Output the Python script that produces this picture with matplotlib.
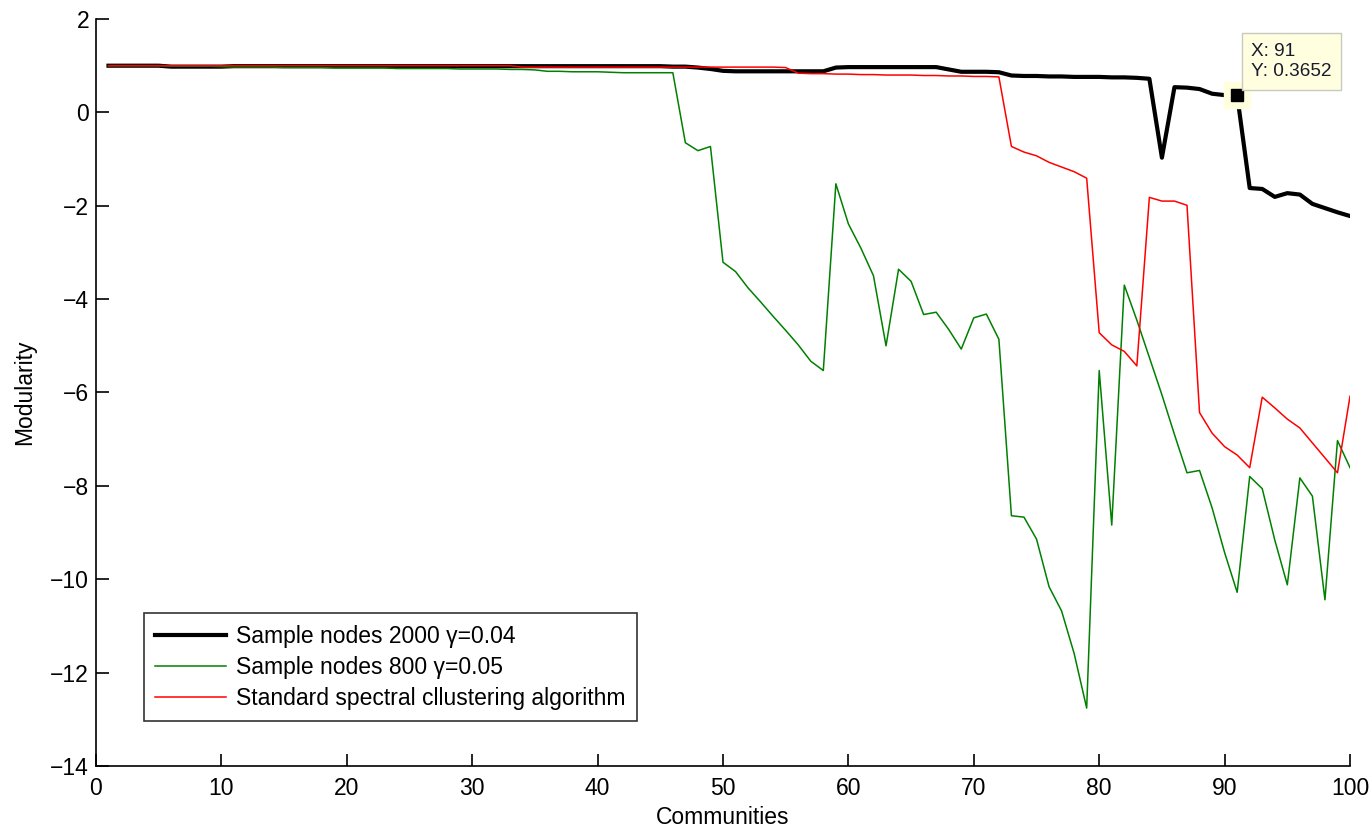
import numpy as np
import matplotlib
matplotlib.use("Agg")
import matplotlib.pyplot as plt

plt.rcParams['font.family'] = ['Liberation Sans', 'DejaVu Sans']

communities = list(range(1, 101))

# Sample nodes 2000, gamma=0.04
black_y = [1.00, 1.00, 1.00, 1.00, 1.00, 0.98, 0.98, 0.98, 0.98, 0.98,
           0.99, 0.99, 0.99, 0.99, 0.99, 0.99, 0.99, 0.99, 0.99, 0.99,
           0.99, 0.99, 0.99, 0.99, 0.99, 0.99, 0.99, 0.99, 0.99, 0.99,
           0.99, 0.99, 0.99, 0.99, 0.99, 0.99, 0.99, 0.99, 0.99, 0.99,
           0.99, 0.99, 0.99, 0.99, 0.99, 0.98, 0.98, 0.96, 0.93, 0.89,
           0.88, 0.88, 0.88, 0.88, 0.88, 0.88, 0.88, 0.88, 0.96, 0.97,
           0.97, 0.97, 0.97, 0.97, 0.97, 0.97, 0.97, 0.92, 0.87, 0.87,
           0.87, 0.86, 0.79, 0.78, 0.78, 0.77, 0.77, 0.76, 0.76, 0.76,
           0.75, 0.75, 0.74, 0.72, -0.97, 0.54, 0.53, 0.50, 0.40, 0.37,
           0.3652, -1.62, -1.64, -1.81, -1.73, -1.76, -1.96, -2.05, -2.14, -2.22]

# Sample nodes 800, gamma=0.05
green_y = [1.00, 1.00, 1.00, 1.00, 1.00, 0.99, 0.99, 0.99, 0.99, 0.98,
           0.97, 0.97, 0.97, 0.97, 0.96, 0.96, 0.96, 0.96, 0.95, 0.95,
           0.95, 0.95, 0.95, 0.94, 0.94, 0.94, 0.94, 0.94, 0.93, 0.93,
           0.93, 0.93, 0.92, 0.92, 0.91, 0.88, 0.88, 0.87, 0.87, 0.87,
           0.86, 0.85, 0.85, 0.85, 0.85, 0.85, -0.65, -0.82, -0.73, -3.21,
           -3.41, -3.76, -4.06, -4.37, -4.67, -4.98, -5.33, -5.53, -1.53, -2.39,
           -2.91, -3.50, -5.00, -3.36, -3.62, -4.33, -4.28, -4.65, -5.07, -4.40,
           -4.32, -4.86, -8.64, -8.67, -9.14, -10.16, -10.68, -11.59, -12.76, -5.53,
           -8.84, -3.70, -4.45, -5.25, -6.05, -6.90, -7.72, -7.67, -8.47, -9.43,
           -10.28, -7.80, -8.06, -9.16, -10.12, -7.83, -8.22, -10.44, -7.03, -7.61]

# Standard spectral clustering
red_y = [1.00, 1.00, 1.00, 1.00, 1.00, 1.00, 1.00, 1.00, 1.00, 1.00,
         1.00, 1.00, 1.00, 1.00, 1.00, 1.00, 1.00, 1.00, 1.00, 1.00,
         1.00, 1.00, 1.00, 1.00, 1.00, 1.00, 1.00, 1.00, 1.00, 1.00,
         1.00, 1.00, 1.00, 0.97, 0.97, 0.97, 0.97, 0.97, 0.97, 0.97,
         0.97, 0.97, 0.97, 0.97, 0.97, 0.97, 0.97, 0.97, 0.97, 0.97,
         0.97, 0.97, 0.97, 0.97, 0.96, 0.84, 0.83, 0.83, 0.82, 0.82,
         0.81, 0.81, 0.80, 0.80, 0.80, 0.79, 0.79, 0.78, 0.78, 0.77,
         0.77, 0.76, -0.73, -0.85, -0.93, -1.07, -1.17, -1.27, -1.41, -4.72,
         -4.98, -5.12, -5.43, -1.82, -1.90, -1.90, -1.99, -6.43, -6.87, -7.16,
         -7.34, -7.61, -6.10, -6.33, -6.57, -6.76, -7.08, -7.40, -7.72, -6.08]

tip_x = 91
tip_y = 0.3652

fig = plt.figure(figsize=(13.71, 8.27), dpi=100)
ax = fig.add_axes([0.070, 0.0738, 0.9147, 0.9032])

ax.plot(communities, black_y, color='black', lw=3.0, label='Sample nodes 2000 γ=0.04')
ax.plot(communities, green_y, color='#008000', lw=1.1, label='Sample nodes 800 γ=0.05')
ax.plot(communities, red_y, color='#ff0000', lw=1.1, label='Standard spectral cllustering algorithm')

# data tip
ax.plot([tip_x], [tip_y], marker='s', ms=19, color='#ffffdd', mec='#ffffdd', zorder=5)
ax.plot([tip_x], [tip_y], marker='s', ms=8, color='black', zorder=6)
ax.annotate('X: %d\nY: %.4f' % (tip_x, tip_y), xy=(tip_x, tip_y), xytext=(10, 11),
            textcoords='offset points', ha='left', va='bottom', fontsize=13.7,
            color='#1a1a2e', linespacing=1.25,
            bbox=dict(boxstyle='square,pad=0.5', fc='#ffffe0', ec='#c8c8c0', lw=1),
            zorder=7)

ax.set_xlim(0, 100)
ax.set_ylim(-14, 2)
ax.set_xticks(np.arange(0, 101, 10))
ax.set_yticks(np.arange(-14, 3, 2))
ax.set_yticklabels(['\u2212%d' % abs(v) if v < 0 else '%d' % v for v in range(-14, 3, 2)])

for s in ['top', 'right']:
    ax.spines[s].set_visible(False)
for s in ['left', 'bottom']:
    ax.spines[s].set_linewidth(1.2)
ax.tick_params(direction='in', length=9, width=1.2, labelsize=16.5)
ax.tick_params(axis='x', pad=8)
ax.tick_params(axis='y', pad=5)

ax.set_xlabel('Communities', fontsize=16.5, labelpad=4)
ax.set_ylabel('Modularity', fontsize=16.5, labelpad=10)

leg = ax.legend(loc='lower left', bbox_to_anchor=(0.038, 0.060), fontsize=16.5,
                frameon=True, fancybox=False, edgecolor='black', handlelength=3.1,
                borderpad=0.5, labelspacing=0.35, handletextpad=0.45, borderaxespad=0)
leg.get_frame().set_linewidth(1.2)

fig.savefig('out.png', dpi=100)
